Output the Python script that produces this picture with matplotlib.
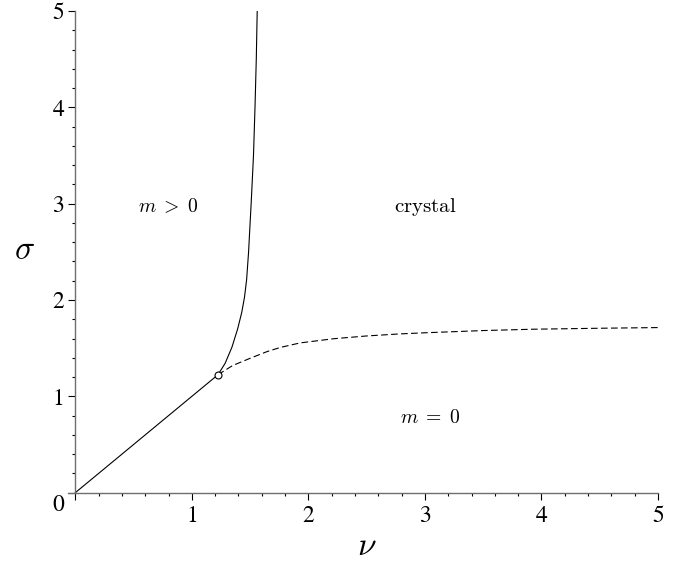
import matplotlib
matplotlib.use("Agg")
import matplotlib.pyplot as plt
from matplotlib.transforms import ScaledTranslation

# Phase boundaries in the (nu, sigma) plane
line_nu = [0.0, 1.2247]
line_sigma = [0.0, 1.2247]

melt_nu = [1.2247, 1.286, 1.344, 1.393, 1.428, 1.452, 1.470, 1.487, 1.500, 1.509, 1.529, 1.542, 1.553, 1.561]
melt_sigma = [1.2247, 1.344, 1.51, 1.70, 1.87, 2.03, 2.21, 2.50, 2.80, 3.00, 3.50, 4.00, 4.50, 5.00]

cryst_nu = [1.2247, 1.35, 1.50, 1.644, 1.76, 1.93, 2.215, 2.50, 2.78, 3.0, 3.5, 3.93, 4.5, 5.0]
cryst_sigma = [1.2247, 1.32, 1.395, 1.464, 1.508, 1.555, 1.598, 1.627, 1.648, 1.66, 1.683, 1.697, 1.707, 1.714]

triple_nu = [1.2247]
triple_sigma = [1.2247]

tick_values = [0, 1, 2, 3, 4, 5]
x_tick_labels = ["", "1", "2", "3", "4", "5"]
y_tick_labels = ["0", "1", "2", "3", "4", "5"]

region_labels = [r"$m\;>\;0$", r"$\mathrm{crystal}$", r"$m\;=\;0$"]
region_sizes = [14.2, 15, 14.2]
region_nu = [0.80, 3.00, 3.04]
region_sigma = [2.97, 2.97, 0.78]

plt.rcParams["mathtext.fontset"] = "cm"
plt.rcParams["font.family"] = ["STIXGeneral", "DejaVu Serif"]

fig = plt.figure(figsize=(6.83, 5.62), dpi=100)
ax = fig.add_axes([68.3 / 683, 69.3 / 562, (658 - 68.3) / 683, (492.7 - 11) / 562])

ax.plot(line_nu, line_sigma, color="black", lw=0.8)
ax.plot(melt_nu, melt_sigma, color="black", lw=0.8)
ax.plot(cryst_nu, cryst_sigma, color="black", lw=0.8, dashes=(6, 3))
ax.plot(triple_nu, triple_sigma, "o", ms=5, mfc="white", mec="black", mew=0.8)

for text, size, x, y in zip(region_labels, region_sizes, region_nu, region_sigma):
    ax.text(x, y, text, fontsize=size, ha="center", va="center")

ax.set_xlim(-0.06, 5)
ax.set_ylim(0, 5)

for side in ("top", "right"):
    ax.spines[side].set_visible(False)
ax.spines["left"].set_position(("data", 0))
for side in ("left", "bottom"):
    ax.spines[side].set_color("#6e6e6e")
    ax.spines[side].set_linewidth(1.0)

ax.set_xticks(tick_values)
ax.set_xticklabels(x_tick_labels)
ax.set_yticks(tick_values)
ax.set_yticklabels(y_tick_labels)
ax.set_xticks([i * 0.2 for i in range(1, 25) if i % 5], minor=True)
ax.set_yticks([i * 0.2 for i in range(1, 25) if i % 5], minor=True)

ax.tick_params(which="major", direction="out", length=5, width=0.8, color="black",
               labelsize=17)
ax.tick_params(axis="x", which="major", pad=4)
ax.tick_params(axis="y", which="major", pad=3)
ax.tick_params(which="minor", direction="out", length=2.5, width=0.8, color="black")

# the shared origin label sits a little below the axis
ylabels = ax.get_yticklabels()
ylabels[0].set_transform(ylabels[0].get_transform()
                         + ScaledTranslation(0, -10 / 100, fig.dpi_scale_trans))

ax.set_xlabel(r"$\nu$", fontsize=24)
ax.xaxis.set_label_coords((367 - 68.3) / 589.7, -(547 - 492.7) / 481.7)
ax.xaxis.label.set_va("center")
ax.set_ylabel(r"$\sigma$", fontsize=24, rotation=0, va="center", ha="center")
ax.yaxis.set_label_coords((25 - 68.3) / 589.7, (492.7 - 251.7) / 481.7)

fig.savefig("out.png", dpi=100)
